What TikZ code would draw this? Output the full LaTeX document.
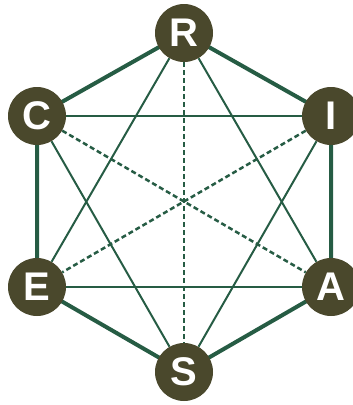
\documentclass[tikz,border=0pt]{standalone}
\usepackage{fontspec}
\setmainfont{Liberation Sans}
\usepackage{tikz}
\usetikzlibrary{backgrounds}
\definecolor{nodebrown}{RGB}{74,72,44}
\definecolor{linegreen}{RGB}{38,92,68}
\tikzset{
    letra/.style={circle, fill=nodebrown, text=white, minimum size=58pt, inner sep=0pt,
        font=\fontsize{40}{40}\selectfont\bfseries},
    lado/.style={draw=linegreen, line width=4pt},
    corda/.style={draw=linegreen, line width=2pt},
    diagonal/.style={draw=linegreen, line width=2.5pt, dash pattern=on 5pt off 3pt}
}

\begin{document}
\begin{tikzpicture}[x=1pt, y=-1pt]
    \useasboundingbox (0,0) rectangle (353,405);
    % vertices of the hexagon
    \node[letra] (R) at (184,33) {R};
    \node[letra] (I) at (331,116) {I};
    \node[letra] (A) at (331,287) {A};
    \node[letra] (S) at (184,372) {S};
    \node[letra] (E) at (37,287) {E};
    \node[letra] (C) at (37,116) {C};
    \begin{scope}[on background layer]
        % sides
        \draw[lado] (R.center) -- (I.center) -- (A.center) -- (S.center) -- (E.center) -- (C.center) -- cycle;
        % two triangles
        \draw[corda] (R) -- (A);
        \draw[corda] (R) -- (E);
        \draw[corda] (E) -- (A);
        \draw[corda] (S) -- (C);
        \draw[corda] (S) -- (I);
        \draw[corda] (C) -- (I);
        % long diagonals
        \draw[diagonal] (R) -- (S);
        \draw[diagonal] (C) -- (A);
        \draw[diagonal] (I) -- (E);
    \end{scope}
\end{tikzpicture}
\end{document}
